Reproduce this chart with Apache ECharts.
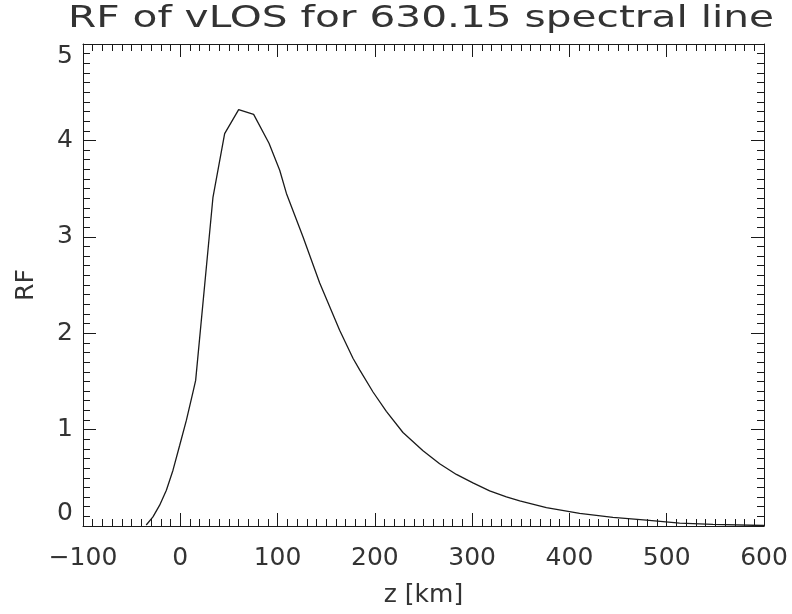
<!DOCTYPE html>
<html>
<head>
<meta charset="utf-8">
<script src="https://cdn.jsdelivr.net/npm/echarts@6/dist/echarts.min.js"></script>
<style>html,body{margin:0;padding:0;background:#fff}#c{width:792px;height:614px}</style>
</head>
<body>
<div id="c"></div>
<script>
var titleText = "RF of vLOS for 630.15 spectral line";
var xName = "z [km]";
var yName = "RF";
var zValues  = [-35, -28.1, -21.2, -14.3, -7.5, -0.6, 6.3, 13.1, 15.8, 33.6, 45.6, 60.0, 75.4, 91.2, 102.2, 109.1, 126.1, 143.3, 163.8, 177.5, 184.4, 198.1, 211.8, 228.9, 249.5, 266.6, 283.8, 300.8, 318.0, 335.2, 348.9, 376.3, 410.5, 444.7, 479.1, 513.3, 547.5, 600];
var rfValues = [0.01, 0.094, 0.216, 0.371, 0.579, 0.838, 1.098, 1.391, 1.51, 3.41, 4.07, 4.32, 4.27, 3.97, 3.69, 3.45, 3.00, 2.52, 2.03, 1.74, 1.62, 1.39, 1.19, 0.97, 0.78, 0.645, 0.535, 0.447, 0.364, 0.302, 0.26, 0.19, 0.13, 0.09, 0.06, 0.03, 0.016, 0.005];
var xMin = -100, xMax = 600, xStep = 100;
var yMin = 0, yMax = 5, yStep = 1;

var seriesData = zValues.map(function (z, i) { return [z, rfValues[i]]; });
var FONT = '"DejaVu Sans"';
var INK = "#1a1a1a";
var TXT = "#333333";

function axisBase(pos, showLabel, isX) {
  var a = {
    type: 'value',
    position: pos,
    min: isX ? xMin : yMin,
    max: isX ? xMax : yMax,
    interval: isX ? xStep : yStep,
    axisLine: { show: true, onZero: false, lineStyle: { color: INK, width: 1 } },
    axisTick: { show: true, inside: true, length: 13, lineStyle: { color: INK, width: 1 } },
    minorTick: { show: true, splitNumber: 10, length: 7, lineStyle: { color: INK, width: 1 } },
    splitLine: { show: false },
    minorSplitLine: { show: false },
    axisLabel: { show: showLabel, color: TXT, fontFamily: FONT, fontSize: 25 }
  };
  if (isX && showLabel) {
    a.axisLabel.margin = 20;
    a.axisLabel.formatter = function (v) { return v < 0 ? '\u2212' + Math.abs(v) : String(v); };
    a.name = xName;
    a.nameLocation = 'middle';
    a.nameGap = 57;
    a.nameTextStyle = { color: TXT, fontFamily: FONT, fontSize: 25 };
  }
  if (!isX && showLabel) {
    a.axisLabel.margin = 10;
    a.axisLabel.verticalAlignMinLabel = 'bottom';
    a.axisLabel.verticalAlignMaxLabel = 'top';
    a.name = yName;
    a.nameLocation = 'middle';
    a.nameGap = 44;
    a.nameRotate = 90;
    a.nameTextStyle = { color: TXT, fontFamily: FONT, fontSize: 25 };
  }
  return a;
}

var chart = echarts.init(document.getElementById('c'), null, { renderer: 'canvas' });
chart.setOption({
  backgroundColor: '#ffffff',
  animation: false,
  grid: { left: 83, right: 28, top: 44, bottom: 88, containLabel: false },
  xAxis: [axisBase('bottom', true, true), axisBase('top', false, true)],
  yAxis: [axisBase('left', true, false), axisBase('right', false, false)],
  graphic: [{
    type: 'text',
    x: 421,
    y: 19,
    scaleX: 1.355,
    style: {
      text: titleText,
      fill: TXT,
      fontFamily: FONT,
      fontSize: 30,
      align: 'center',
      verticalAlign: 'middle'
    }
  }],
  series: [{
    type: 'line',
    xAxisIndex: 0,
    yAxisIndex: 0,
    data: seriesData,
    showSymbol: false,
    symbol: 'none',
    smooth: false,
    clip: true,
    lineStyle: { color: INK, width: 1.3 }
  }]
});
</script>
</body>
</html>
